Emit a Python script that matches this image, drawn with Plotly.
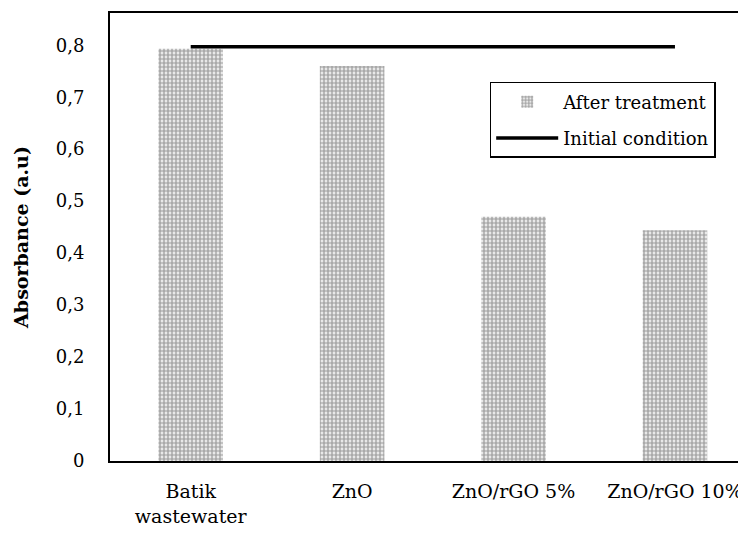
import plotly.graph_objects as go

categories = ["Batik<br>wastewater", "ZnO", "ZnO/rGO 5%", "ZnO/rGO 10%"]
after_treatment = [0.793, 0.760, 0.470, 0.444]
initial_condition = [0.797, 0.797, 0.797, 0.797]
y_tick_vals = [0, 0.1, 0.2, 0.3, 0.4, 0.5, 0.6, 0.7, 0.8]
y_tick_text = ["0", "0,1", "0,2", "0,3", "0,4", "0,5", "0,6", "0,7", "0,8"]

FONT = "DejaVu Serif"

fig = go.Figure()
fig.add_trace(go.Bar(
    x=categories, y=after_treatment, name="After treatment", width=0.4,
    legendgroup="a",
    marker=dict(color="white", line=dict(width=0),
                pattern=dict(shape=".", fgcolor="#555555", bgcolor="white",
                             size=4, solidity=0.7, fillmode="overlay")),
))
fig.add_trace(go.Scatter(
    x=categories, y=initial_condition, name="Initial condition", mode="lines",
    legendgroup="b",
    line=dict(color="black", width=3.5),
))

fig.update_layout(
    width=738, height=538,
    margin=dict(l=102, r=0, t=5, b=85),
    plot_bgcolor="white", paper_bgcolor="white",
    font=dict(family=FONT, size=18, color="black"),
    showlegend=True,
    legend=dict(x=0.597, y=0.846, xanchor="left", yanchor="top",
                bordercolor="black", borderwidth=1.5, bgcolor="white",
                font=dict(family=FONT, size=18), itemwidth=62,
                traceorder="grouped", tracegroupgap=10),
    xaxis=dict(type="category", range=[-0.5, 3.44], showline=True,
               linecolor="black", linewidth=2, mirror=True, ticks="",
               showgrid=False, ticklabelstandoff=12,
               tickfont=dict(family=FONT, size=19)),
    yaxis=dict(range=[0, 0.862], tickvals=y_tick_vals, ticktext=y_tick_text,
               showline=True, linecolor="black", linewidth=2, ticks="",
               showgrid=False, zeroline=False, ticklabelstandoff=20,
               tickfont=dict(family=FONT, size=18),
               title=dict(text="<b>Absorbance (a.u)</b>",
                          font=dict(family=FONT, size=19), standoff=22)),
)

fig.write_html("out.html")
